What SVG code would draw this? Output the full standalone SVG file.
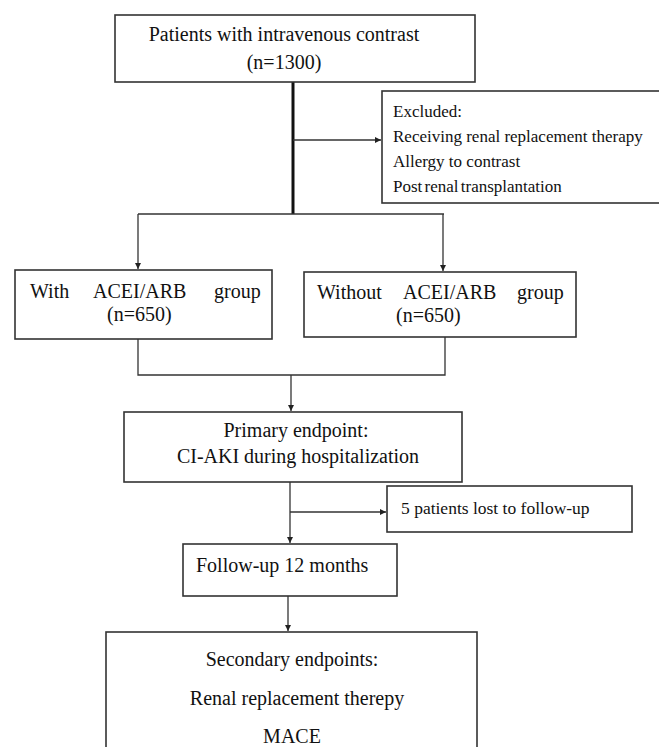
<svg xmlns="http://www.w3.org/2000/svg" width="659" height="747" viewBox="0 0 659 747">
<style>
.box{fill:#fff;stroke:#333;stroke-width:1.6}
.t{font-family:"Liberation Serif","Times New Roman",serif;font-size:20px;fill:#111}
.s{font-size:17px}
.c{text-anchor:middle}
.ln{stroke:#333;stroke-width:1.3;fill:none}
</style>
<defs>
<marker id="ah" markerUnits="userSpaceOnUse" markerWidth="8" markerHeight="8" refX="6" refY="3" orient="auto">
<path d="M0,0 L6,3 L0,6 Z" fill="#222"/>
</marker>
</defs>
<rect width="659" height="747" fill="#fff"/>
<g id="connectors">
<line x1="293" y1="82" x2="293" y2="214" stroke="#111" stroke-width="3"/>
<line class="ln" x1="293" y1="140" x2="381" y2="140" marker-end="url(#ah)"/>
<line class="ln" x1="138" y1="214" x2="444" y2="214"/>
<line class="ln" x1="138" y1="214" x2="138" y2="269" marker-end="url(#ah)"/>
<line class="ln" x1="443" y1="214" x2="443" y2="271" marker-end="url(#ah)"/>
<polyline class="ln" points="138,339 138,375 445,375 445,337"/>
<line class="ln" x1="291" y1="375" x2="291" y2="411" marker-end="url(#ah)"/>
<line class="ln" x1="290" y1="482" x2="290" y2="543" marker-end="url(#ah)"/>
<line class="ln" x1="290" y1="512" x2="386" y2="512" marker-end="url(#ah)"/>
<line class="ln" x1="288" y1="596" x2="288" y2="631" marker-end="url(#ah)"/>
</g>
<g id="patients">
<rect class="box" x="115" y="15" width="360" height="67"/>
<text class="t c" x="284" y="41">Patients with intravenous contrast</text>
<text class="t c" x="284" y="69">(n=1300)</text>
</g>
<g id="excluded">
<rect class="box" x="382" y="91" width="290" height="112"/>
<text class="t s" x="393" y="117">Excluded:</text>
<text class="t s" x="393" y="142">Receiving renal replacement therapy</text>
<text class="t s" x="393" y="167">Allergy to contrast</text>
<text class="t s" x="393" y="192" word-spacing="-2">Post renal transplantation</text>
</g>
<g id="with-group">
<rect class="box" x="15" y="270" width="257" height="69"/>
<text class="t" y="298"><tspan x="30">With</tspan><tspan x="93">ACEI/ARB</tspan><tspan x="214">group</tspan></text>
<text class="t" x="107" y="321">(n=650)</text>
</g>
<g id="without-group">
<rect class="box" x="304" y="272" width="272" height="65"/>
<text class="t" y="299"><tspan x="317">Without</tspan><tspan x="403">ACEI/ARB</tspan><tspan x="517">group</tspan></text>
<text class="t" x="396" y="322">(n=650)</text>
</g>
<g id="primary">
<rect class="box" x="124" y="412" width="338" height="70"/>
<text class="t c" x="296" y="437">Primary endpoint:</text>
<text class="t c" x="298" y="463">CI-AKI during hospitalization</text>
</g>
<g id="lost">
<rect class="box" x="387" y="486" width="245" height="46"/>
<text class="t" x="401" y="514" style="font-size:17.5px">5 patients lost to follow-up</text>
</g>
<g id="followup">
<rect class="box" x="183" y="544" width="214" height="52"/>
<text class="t" x="196" y="572">Follow-up 12 months</text>
</g>
<g id="secondary">
<rect class="box" x="106" y="632" width="371" height="130"/>
<text class="t c" x="292" y="666">Secondary endpoints:</text>
<text class="t c" x="297" y="705">Renal replacement therepy</text>
<text class="t c" x="292" y="743">MACE</text>
</g>
</svg>
